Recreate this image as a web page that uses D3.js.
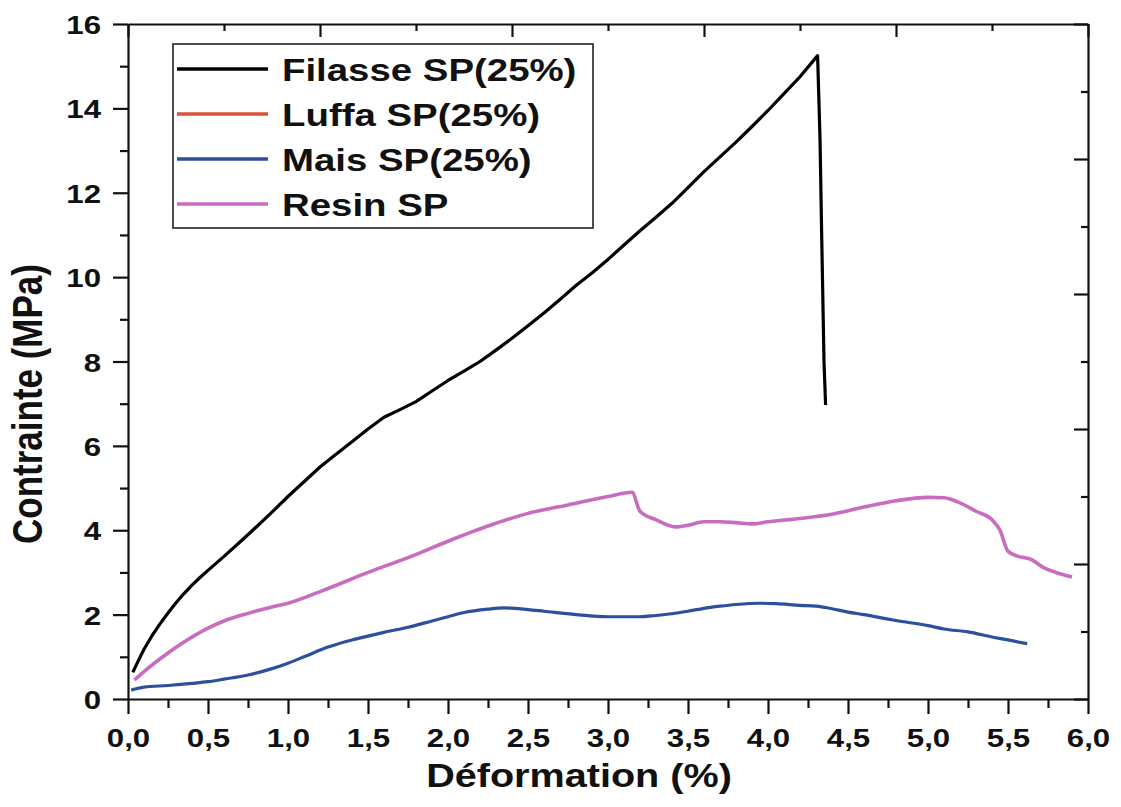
<!DOCTYPE html>
<html>
<head>
<meta charset="utf-8">
<script src="https://cdn.jsdelivr.net/npm/d3@7"></script>
<style>
  body { margin: 0; background: #fff; }
  text { font-family: "Liberation Sans", Arial, sans-serif; font-weight: bold; fill: #111; }
</style>
</head>
<body>
<svg id="chart" width="1121" height="807"></svg>
<script>
// tick values and labels
const xTicks = [0, 0.5, 1, 1.5, 2, 2.5, 3, 3.5, 4, 4.5, 5, 5.5, 6];
const xLabels = ["0,0", "0,5", "1,0", "1,5", "2,0", "2,5", "3,0", "3,5", "4,0", "4,5", "5,0", "5,5", "6,0"];
const xMinor = [0.25, 0.75, 1.25, 1.75, 2.25, 2.75, 3.25, 3.75, 4.25, 4.75, 5.25, 5.75];
const yTicks = [0, 2, 4, 6, 8, 10, 12, 14, 16];
const yMinor = [1, 3, 5, 7, 9, 11, 13, 15];
const topMajor = [0, 1.2, 2.4, 3.6, 4.8, 6.0];
const topMinor = [0.6, 1.8, 3.0, 4.2, 5.4];
const rightMajor = [0, 3.2, 6.4, 9.6, 12.8, 16];
const rightMinor = [1.6, 4.8, 8.0, 11.2, 14.4];

// series (deformation %, stress MPa)
const filasse = [[0.03,0.63],[0.07,0.95],[0.1,1.18],[0.15,1.5],[0.2,1.78],[0.25,2.04],[0.3,2.28],
  [0.35,2.5],[0.4,2.7],[0.45,2.88],[0.5,3.05],[0.6,3.38],[0.7,3.72],[0.8,4.07],[0.9,4.43],[1.0,4.8],
  [1.1,5.15],[1.2,5.5],[1.3,5.8],[1.4,6.1],[1.5,6.4],[1.6,6.68],[1.7,6.86],[1.8,7.05],[1.9,7.3],
  [2.0,7.55],[2.1,7.77],[2.2,8.0],[2.3,8.27],[2.4,8.55],[2.5,8.85],[2.6,9.15],[2.7,9.47],[2.8,9.8],
  [2.9,10.1],[3.0,10.42],[3.1,10.76],[3.2,11.1],[3.3,11.42],[3.4,11.75],[3.5,12.12],[3.6,12.5],
  [3.7,12.85],[3.8,13.2],[3.9,13.57],[4.0,13.95],[4.1,14.35],[4.2,14.75],[4.31,15.25],[4.325,13.3],
  [4.335,11.1],[4.35,8.0],[4.36,6.97]];
const luffa = [];
const mais = [[0.02,0.21],[0.1,0.28],[0.25,0.32],[0.4,0.37],[0.5,0.41],[0.6,0.47],[0.75,0.57],[0.9,0.72],
  [1.0,0.85],[1.1,1.0],[1.25,1.23],[1.4,1.4],[1.5,1.49],[1.6,1.58],[1.75,1.7],[1.9,1.85],[2.0,1.95],
  [2.1,2.05],[2.25,2.13],[2.35,2.16],[2.5,2.12],[2.6,2.08],[2.8,2.0],[3.0,1.95],[3.2,1.95],[3.3,1.98],
  [3.4,2.02],[3.5,2.08],[3.6,2.15],[3.7,2.2],[3.8,2.24],[3.95,2.27],[4.05,2.26],[4.2,2.22],[4.3,2.2],
  [4.4,2.14],[4.5,2.06],[4.6,2.0],[4.7,1.93],[4.8,1.86],[5.0,1.74],[5.1,1.66],[5.25,1.59],[5.4,1.47],
  [5.5,1.4],[5.62,1.31]];
const resin = [[0.04,0.45],[0.1,0.65],[0.25,1.09],[0.35,1.35],[0.5,1.68],[0.6,1.85],[0.75,2.03],
  [0.9,2.18],[1.0,2.27],[1.25,2.62],[1.5,3.0],[1.75,3.35],[2.0,3.74],[2.25,4.1],[2.5,4.4],[2.75,4.6],
  [3.0,4.8],[3.15,4.9],[3.2,4.45],[3.3,4.25],[3.42,4.08],[3.5,4.12],[3.6,4.2],[3.7,4.2],[3.8,4.18],
  [3.9,4.15],[4.0,4.2],[4.2,4.28],[4.4,4.38],[4.6,4.55],[4.8,4.7],[5.0,4.78],[5.1,4.77],[5.2,4.65],
  [5.3,4.45],[5.4,4.25],[5.45,4.0],[5.5,3.5],[5.55,3.4],[5.65,3.3],[5.72,3.12],[5.8,3.0],[5.9,2.89]];

const names = ["Filasse SP(25%)", "Luffa SP(25%)", "Mais SP(25%)", "Resin SP"];
const colors = ["#000000", "#d9553a", "#2c4f9e", "#c86cc0"];
const datasets = [filasse, luffa, mais, resin];

const SX = 1.2; // text in the picture is stretched horizontally
const svg = d3.select("#chart");
const x = d3.scaleLinear().domain([0, 6]).range([128, 1088]);
const y = d3.scaleLinear().domain([0, 16]).range([699, 24]);

function styleAxis(g) {
  g.select(".domain").attr("stroke", "#111").attr("stroke-width", 2.2);
  g.selectAll(".tick line").attr("stroke", "#111").attr("stroke-width", 2.2);
}

// bottom axis
let gB = svg.append("g").attr("transform", "translate(0,699)")
  .call(d3.axisBottom(x).tickValues(xTicks).tickSize(15).tickSizeOuter(0)
    .tickFormat((d, i) => xLabels[i]));
styleAxis(gB);
gB.selectAll(".tick text").attr("y", null).attr("dy", null)
  .attr("font-size", 26).attr("text-anchor", "middle")
  .attr("transform", `translate(0,48) scale(${SX},1)`);
svg.append("g").attr("transform", "translate(0,699)")
  .call(d3.axisBottom(x).tickValues(xMinor).tickSize(9).tickFormat(""))
  .call(g => g.select(".domain").remove())
  .call(styleAxis);

// left axis
let gL = svg.append("g").attr("transform", "translate(128,0)")
  .call(d3.axisLeft(y).tickValues(yTicks).tickSize(15).tickSizeOuter(0));
styleAxis(gL);
gL.selectAll(".tick text").attr("x", null).attr("dy", null)
  .attr("font-size", 26).attr("text-anchor", "end")
  .attr("transform", `translate(-27,9.5) scale(${SX},1)`);
svg.append("g").attr("transform", "translate(128,0)")
  .call(d3.axisLeft(y).tickValues(yMinor).tickSize(8).tickFormat(""))
  .call(g => g.select(".domain").remove())
  .call(styleAxis);

// top axis (inward ticks)
svg.append("g").attr("transform", "translate(0,24)")
  .call(d3.axisBottom(x).tickValues(topMajor).tickSize(13).tickSizeOuter(0).tickFormat(""))
  .call(styleAxis);
svg.append("g").attr("transform", "translate(0,24)")
  .call(d3.axisBottom(x).tickValues(topMinor).tickSize(7).tickFormat(""))
  .call(g => g.select(".domain").remove())
  .call(styleAxis);

// right axis (inward ticks)
svg.append("g").attr("transform", "translate(1088,0)")
  .call(d3.axisLeft(y).tickValues(rightMajor).tickSize(14).tickSizeOuter(0).tickFormat(""))
  .call(styleAxis);
svg.append("g").attr("transform", "translate(1088,0)")
  .call(d3.axisLeft(y).tickValues(rightMinor).tickSize(7).tickFormat(""))
  .call(g => g.select(".domain").remove())
  .call(styleAxis);

// curves
const smooth = d3.line().x(d => x(d[0])).y(d => y(d[1])).curve(d3.curveMonotoneX);
const straight = d3.line().x(d => x(d[0])).y(d => y(d[1]));
[2, 3, 0].forEach(i => {
  if (!datasets[i].length) return;
  svg.append("path")
    .attr("fill", "none")
    .attr("stroke", colors[i])
    .attr("stroke-width", i === 3 ? 3.6 : 3.2)
    .attr("stroke-linejoin", "round")
    .attr("d", (i === 0 ? straight : smooth)(datasets[i]));
});

// legend
const leg = svg.append("g");
leg.append("rect").attr("x", 173).attr("y", 44).attr("width", 420).attr("height", 184)
  .attr("fill", "#fff").attr("stroke", "#222").attr("stroke-width", 1.6);
names.forEach((n, i) => {
  const ry = 69 + i * 45;
  leg.append("line").attr("x1", 177).attr("x2", 268).attr("y1", ry).attr("y2", ry)
    .attr("stroke", colors[i]).attr("stroke-width", 3.6);
  leg.append("text").attr("font-size", 32)
    .attr("transform", `translate(282,${ry + 12}) scale(${SX},1)`)
    .text(n);
});

// axis titles
svg.append("text").attr("font-size", 33).attr("text-anchor", "middle")
  .attr("transform", `translate(579,787) scale(${SX},1)`)
  .text("Déformation (%)");
svg.append("text").attr("font-size", 35).attr("text-anchor", "middle")
  .attr("transform", `translate(42,404) scale(${SX},1) rotate(-90)`)
  .text("Contrainte (MPa)");
</script>
</body>
</html>
